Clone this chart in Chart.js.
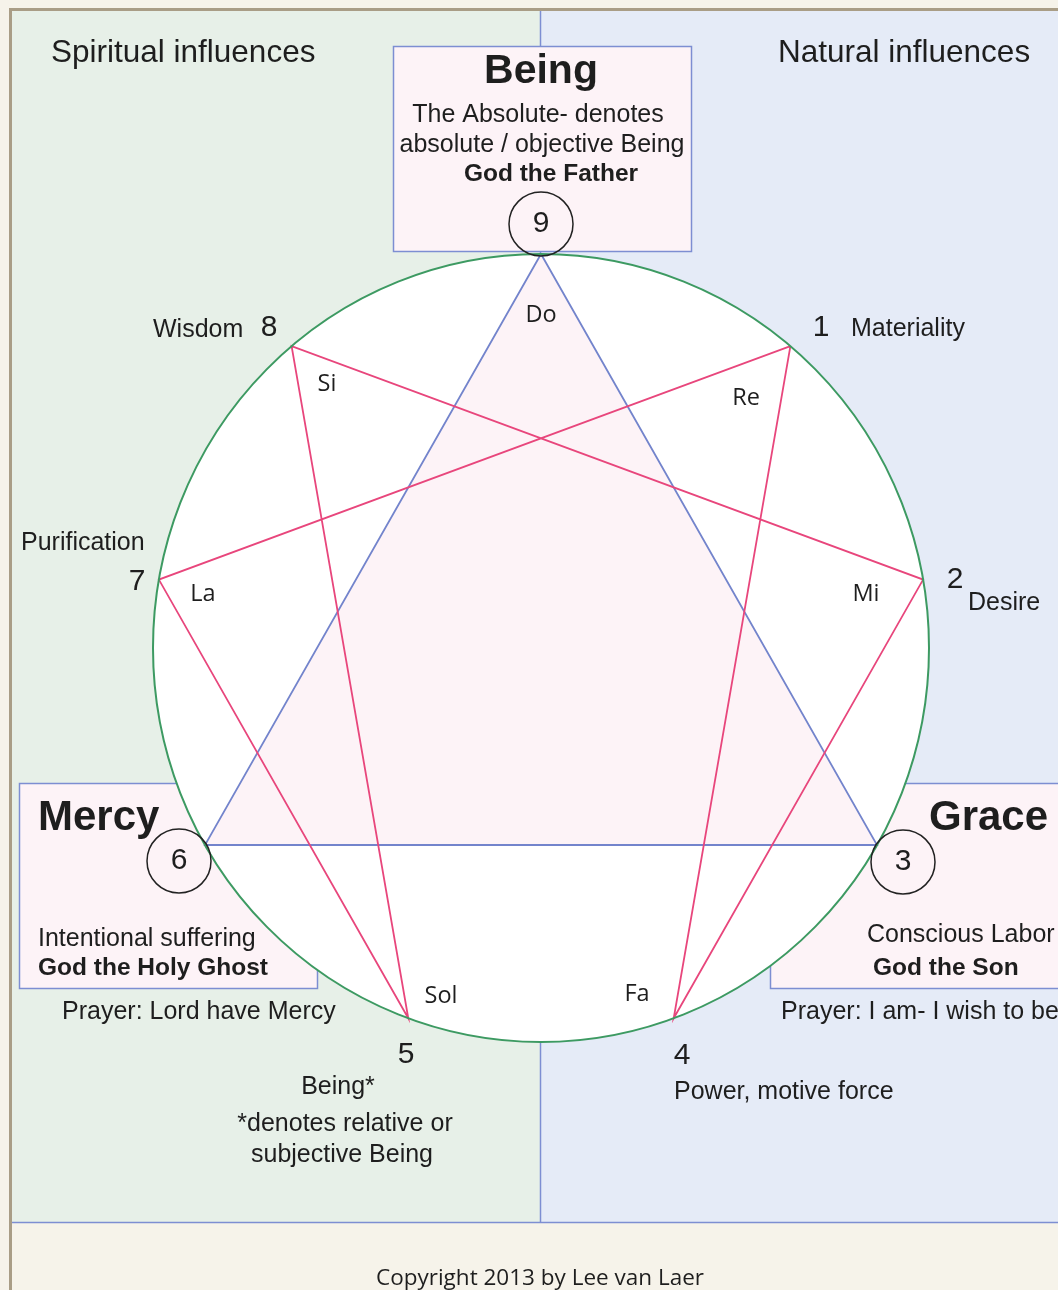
<!DOCTYPE html>
<html>
<head>
<meta charset="utf-8">
<title>Enneagram</title>
<script src="https://cdn.jsdelivr.net/npm/chart.js@4.4.1/dist/chart.umd.min.js"></script>
<style>
  html, body { margin: 0; padding: 0; background: #f6f3ea; }
  canvas { display: block; }
</style>
</head>
<body>
<canvas id="ennea" width="1058" height="1290"></canvas>
<script>
// points of the enneagram, clockwise from the top
const pointNumbers = [9, 1, 2, 3, 4, 5, 6, 7, 8];
const pointNotes = ['Do', 'Re', 'Mi', '', 'Fa', 'Sol', '', 'La', 'Si'];
// inner lines
const hexadOrder = [1, 4, 2, 8, 5, 7, 1];
const triangleOrder = [9, 3, 6, 9];

const W = 1058, H = 1290;
// where the circle sits on the page (pixels)
const cx = 541, cy = 648, rx = 388, ry = 394;

const SANS = '"Liberation Sans", Arial, sans-serif';
const HUMAN = '"Open Sans", "Noto Sans", sans-serif';
const BLUE = '#7d8ed2';
const PINK = '#fdf3f7';

// position of a point on the unit circle, 40 degrees per step
function pointAt(n) {
  const a = pointNumbers.indexOf(n) * 40 * Math.PI / 180;
  return { x: Math.sin(a), y: Math.cos(a) };
}

// page: frame, two panels, boxes, white disc
const background = {
  id: 'background',
  beforeDraw(chart) {
    const {ctx, scales} = chart;
    ctx.save();
    ctx.fillStyle = '#f6f3ea';
    ctx.fillRect(0, 0, W, H);

    ctx.fillStyle = '#e7f0e8';
    ctx.fillRect(12, 11, 528, 1211);
    ctx.fillStyle = '#e5ebf7';
    ctx.fillRect(540, 11, W - 540, 1211);

    // brown frame left and top
    ctx.strokeStyle = '#a99d86';
    ctx.lineWidth = 3;
    ctx.beginPath();
    ctx.moveTo(10.5, H);
    ctx.lineTo(10.5, 9.5);
    ctx.lineTo(W, 9.5);
    ctx.stroke();

    ctx.strokeStyle = BLUE;
    ctx.lineWidth = 1.5;
    ctx.beginPath();
    ctx.moveTo(540.5, 11);
    ctx.lineTo(540.5, 1222);
    ctx.moveTo(12, 1222.5);
    ctx.lineTo(W, 1222.5);
    ctx.stroke();

    // text boxes
    const boxes = [[393, 46, 298, 205], [19, 783, 298, 205], [770, 783, 300, 205]];
    boxes.forEach(b => {
      ctx.fillStyle = PINK;
      ctx.fillRect(b[0], b[1], b[2], b[3]);
      ctx.strokeRect(b[0] + 0.5, b[1] + 0.5, b[2], b[3]);
    });

    // white disc of the enneagram
    const x0 = scales.x.getPixelForValue(0), y0 = scales.y.getPixelForValue(0);
    ctx.fillStyle = '#ffffff';
    ctx.beginPath();
    ctx.ellipse(x0, y0, scales.x.getPixelForValue(1) - x0, y0 - scales.y.getPixelForValue(1), 0, 0, Math.PI * 2);
    ctx.fill();
    ctx.restore();
  }
};

// circle outline, numbered rings and all text
const overlay = {
  id: 'overlay',
  afterDatasetsDraw(chart) {
    const {ctx, scales} = chart;
    ctx.save();
    const x0 = scales.x.getPixelForValue(0), y0 = scales.y.getPixelForValue(0);
    ctx.strokeStyle = '#3d9a62';
    ctx.lineWidth = 2;
    ctx.beginPath();
    ctx.ellipse(x0, y0, scales.x.getPixelForValue(1) - x0, y0 - scales.y.getPixelForValue(1), 0, 0, Math.PI * 2);
    ctx.stroke();

    // rings for 9, 6, 3
    ctx.strokeStyle = '#222';
    ctx.lineWidth = 1.5;
    [[541, 224], [179, 861], [903, 862]].forEach(c => {
      ctx.beginPath();
      ctx.arc(c[0], c[1], 32, 0, Math.PI * 2);
      ctx.stroke();
    });

    function text(str, x, y, size, opts = {}) {
      ctx.font = `${opts.bold ? 'bold ' : ''}${size}px ${opts.family || SANS}`;
      ctx.fillStyle = '#1e1e1e';
      ctx.textAlign = opts.align || 'left';
      ctx.textBaseline = 'middle';
      ctx.fillText(str, x, y);
    }

    text('Spiritual influences', 51, 53, 31.5);
    text('Natural influences', 778, 53, 31.5);

    text('Being', 541, 72, 41, {bold: true, align: 'center'});
    text('The Absolute- denotes', 538, 115, 25, {align: 'center'});
    text('absolute / objective Being', 542, 145, 25, {align: 'center'});
    text('God the Father', 551, 174, 24.5, {bold: true, align: 'center'});

    text('Mercy', 38, 818, 42, {bold: true});
    text('Intentional suffering', 38, 939, 25);
    text('God the Holy Ghost', 38, 968, 24.5, {bold: true});
    text('Prayer: Lord have Mercy', 62, 1012, 25);

    text('Grace', 929, 818, 42, {bold: true});
    text('Conscious Labor', 867, 935, 25);
    text('God the Son', 873, 968, 24.5, {bold: true});
    text('Prayer: I am- I wish to be', 781, 1012, 25);

    // numbers round the circle
    text('9', 541, 224, 30, {align: 'center'});
    text('6', 179, 861, 30, {align: 'center'});
    text('3', 903, 862, 30, {align: 'center'});
    text('1', 821, 328, 30, {align: 'center'});
    text('2', 955, 580, 30, {align: 'center'});
    text('4', 682, 1056, 30, {align: 'center'});
    text('5', 406, 1055, 30, {align: 'center'});
    text('7', 137, 582, 30, {align: 'center'});
    text('8', 269, 328, 30, {align: 'center'});

    text('Materiality', 851, 329, 25);
    text('Desire', 968, 603, 25);
    text('Power, motive force', 674, 1092, 25);
    text('Being*', 338, 1087, 25, {align: 'center'});
    text('*denotes relative or', 345, 1124, 25, {align: 'center'});
    text('subjective Being', 342, 1155, 25, {align: 'center'});
    text('Purification', 21, 543, 25);
    text('Wisdom', 153, 330, 25);

    // solfege notes inside the circle
    const notePos = [[541, 315], [746, 398], [866, 594], null, [637, 994], [441, 996], null, [203, 594], [327, 384]];
    pointNotes.forEach((n, i) => {
      if (n) text(n, notePos[i][0], notePos[i][1], 23.5, {align: 'center', family: HUMAN});
    });

    text('Copyright 2013 by Lee van Laer', 540, 1279, 22.5, {align: 'center', family: HUMAN});
    ctx.restore();
  }
};

const config = {
  type: 'scatter',
  data: {
    datasets: [
      {
        label: 'hexad',
        data: hexadOrder.map(pointAt),
        showLine: true,
        borderColor: '#e8467c',
        borderWidth: 1.8,
        pointRadius: 0,
        fill: false,
        order: 1
      },
      {
        label: 'triangle',
        data: triangleOrder.map(pointAt),
        showLine: true,
        borderColor: '#7384cc',
        borderWidth: 1.8,
        backgroundColor: PINK,
        pointRadius: 0,
        fill: 'shape',
        order: 2
      }
    ]
  },
  options: {
    responsive: false,
    animation: false,
    events: [],
    layout: { padding: 0 },
    scales: {
      x: { type: 'linear', display: false, min: -cx / rx, max: (W - cx) / rx },
      y: { type: 'linear', display: false, min: -(H - cy) / ry, max: cy / ry }
    },
    plugins: {
      legend: { display: false },
      tooltip: { enabled: false }
    }
  },
  plugins: [background, overlay]
};

new Chart(document.getElementById('ennea'), config);
</script>
</body>
</html>
